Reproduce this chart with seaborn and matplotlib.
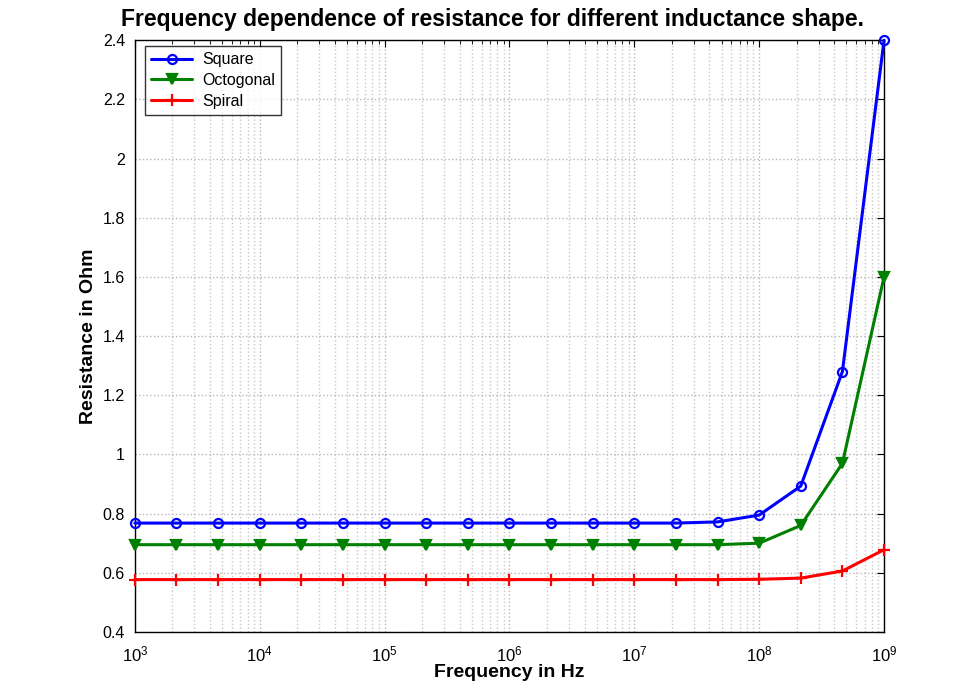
import numpy as np
import pandas as pd
import matplotlib
matplotlib.use("Agg")
import matplotlib.pyplot as plt
import seaborn as sns
from matplotlib.ticker import FixedLocator, NullFormatter

freq = [1e3, 2.154e3, 4.642e3, 1e4, 2.154e4, 4.642e4, 1e5, 2.154e5, 4.642e5,
        1e6, 2.154e6, 4.642e6, 1e7, 2.154e7, 4.642e7, 1e8, 2.154e8, 4.642e8, 1e9]
square = [0.768]*14 + [0.772, 0.795, 0.893, 1.28, 2.40]
octogonal = [0.695]*15 + [0.700, 0.760, 0.970, 1.60]
spiral = [0.577]*15 + [0.578, 0.582, 0.606, 0.678]
series = ["Square", "Octogonal", "Spiral"]
colors = ["#0000ff", "#008000", "#ff0000"]
markers = ["o", "v", "+"]
y_ticks = [0.4, 0.6, 0.8, 1.0, 1.2, 1.4, 1.6, 1.8, 2.0, 2.2, 2.4]
y_labels = ["0.4", "0.6", "0.8", "1", "1.2", "1.4", "1.6", "1.8", "2", "2.2", "2.4"]
x_ticks = [1e3, 1e4, 1e5, 1e6, 1e7, 1e8, 1e9]
x_labels = [r"$10^{3}$", r"$10^{4}$", r"$10^{5}$", r"$10^{6}$", r"$10^{7}$", r"$10^{8}$", r"$10^{9}$"]

sns.set_style("white")
plt.rcParams['font.family'] = ['Liberation Sans', 'DejaVu Sans']
plt.rcParams['text.color'] = 'black'
plt.rcParams['axes.labelcolor'] = 'black'
plt.rcParams['mathtext.fontset'] = 'custom'
plt.rcParams['mathtext.rm'] = 'Liberation Sans'
plt.rcParams['mathtext.it'] = 'Liberation Sans'

fig = plt.figure(figsize=(9.63, 6.81), dpi=100)
ax = fig.add_axes([0.140, 0.072, 0.778, 0.869])

sizes = {"o": 6.5, "v": 6.5, "+": 8}
for name, vals, c, m in zip(series, [square, octogonal, spiral], colors, markers):
    d = pd.DataFrame({"freq": freq, "R": vals})
    sns.lineplot(data=d, x="freq", y="R", color=c, marker=m, linewidth=2.2,
                 markersize=sizes[m], markerfacecolor="none" if m == "o" else c,
                 markeredgecolor=c, markeredgewidth=1.6, label=name, ax=ax)
for ln in ax.lines:
    ln.set_clip_on(False)
    ln.set_zorder(5)

ax.set_xscale("log")
ax.set_xlim(1e3, 1e9)
ax.set_ylim(0.4, 2.4)
ax.yaxis.set_major_locator(FixedLocator(y_ticks))
ax.set_yticklabels(y_labels)
ax.xaxis.set_major_locator(FixedLocator(x_ticks))
ax.set_xticklabels(x_labels)
minor = [k * 10**e for e in range(3, 9) for k in range(2, 10)]
ax.xaxis.set_minor_locator(FixedLocator(minor))
ax.xaxis.set_minor_formatter(NullFormatter())
ax.grid(True, which="major", axis="both", color="#b8b8b8", linestyle=":", linewidth=1.0)
ax.grid(True, which="minor", axis="x", color="#c8c8c8", linestyle=":", linewidth=1.0)
ax.tick_params(which="both", direction="in", top=True, right=True, colors="black")
ax.tick_params(axis="y", which="major", length=5, labelsize=11.5, pad=7)
ax.tick_params(axis="x", which="major", length=5, labelsize=12, pad=9)
ax.tick_params(which="minor", length=3)
for sp in ax.spines.values():
    sp.set_color("black")
    sp.set_linewidth(1.0)

ax.set_xlabel("Frequency in Hz", fontsize=14, fontweight="bold", labelpad=0)
ax.set_ylabel("Resistance in Ohm", fontsize=14, fontweight="bold", labelpad=4)
ax.set_title("Frequency dependence of resistance for different inductance shape.",
             fontsize=16.5, fontweight="bold", pad=10, x=0.477)

leg = ax.legend(loc="upper left", bbox_to_anchor=(0.013, 0.99), borderaxespad=0,
                fontsize=11.5, frameon=True, fancybox=False, edgecolor="black",
                handlelength=2.6, handletextpad=0.6, borderpad=0.4, labelspacing=0.35)
leg.get_frame().set_linewidth(1.0)

fig.savefig("out.png", dpi=100)
